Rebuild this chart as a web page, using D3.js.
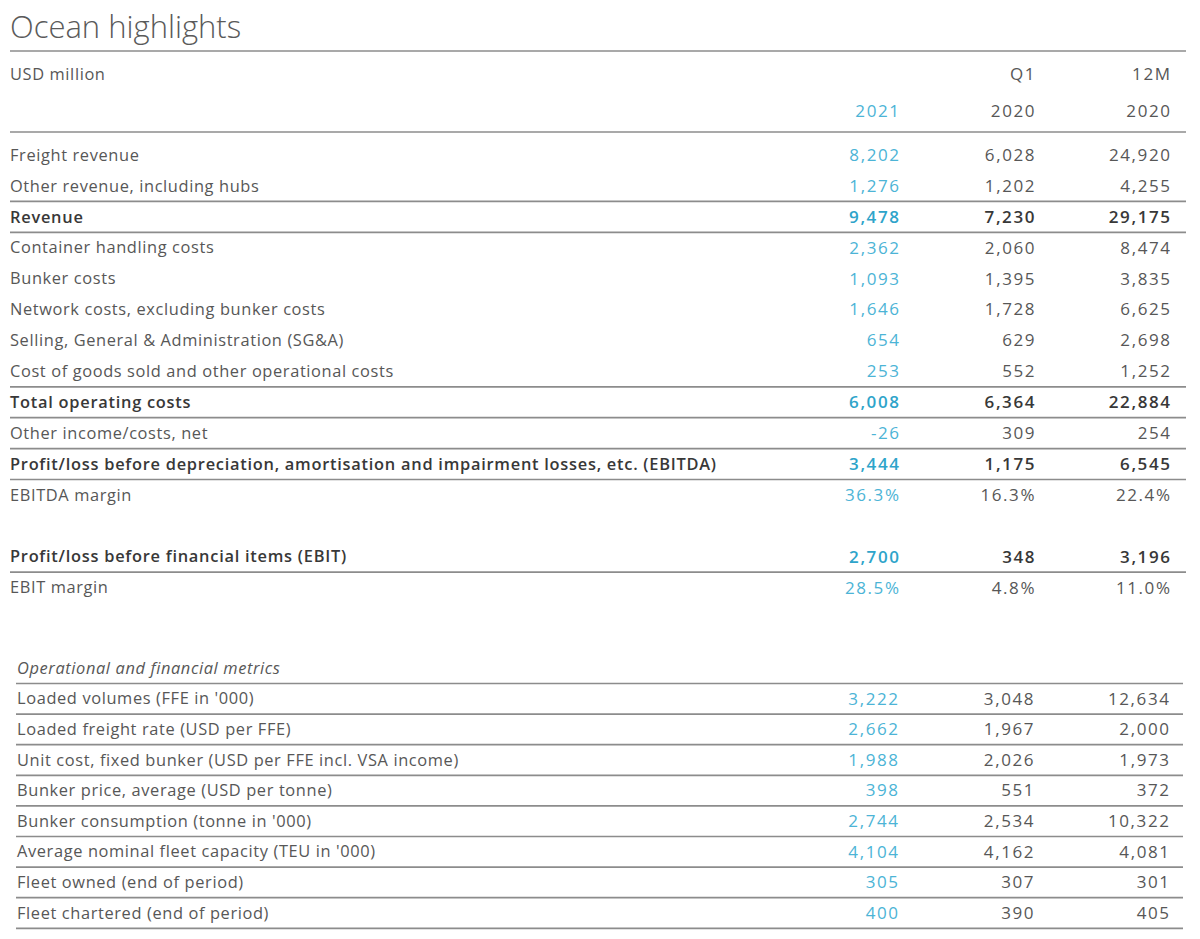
<!DOCTYPE html>
<html lang="en">
<head>
    <meta charset="UTF-8">
    <title>Ocean highlights</title>
    <script src="https://d3js.org/d3.v7.min.js"></script>
    <style>
        body { margin: 0; background: #fff; }
        text { font-family: "Open Sans", "Noto Sans", sans-serif; }
        .label { fill: #575757; font-size: 16.4px; letter-spacing: 0.62px; }
        .label.bold { letter-spacing: 0.74px; }
        .num { fill: #575757; font-size: 17px; letter-spacing: 1.6px; text-anchor: end; }
        .cur { fill: #4cb4d6; }
        .bold { font-weight: 600; fill: #383838; }
        .bold.cur { fill: #2ea4ca; }
        .rule { stroke: #8c8c8c; stroke-width: 1.7; }
    </style>
</head>
<body>
    <svg width="1200" height="939"></svg>

    <script>
        // column headers
        const columns = ["2021", "Q1 2020", "12M 2020"];
        const headTop = ["", "Q1", "12M"];
        const headYear = ["2021", "2020", "2020"];

        // income statement part
        const incomeLabels = [
            "Freight revenue",
            "Other revenue, including hubs",
            "Revenue",
            "Container handling costs",
            "Bunker costs",
            "Network costs, excluding bunker costs",
            "Selling, General & Administration (SG&A)",
            "Cost of goods sold and other operational costs",
            "Total operating costs",
            "Other income/costs, net",
            "Profit/loss before depreciation, amortisation and impairment losses, etc. (EBITDA)",
            "EBITDA margin",
            "",
            "Profit/loss before financial items (EBIT)",
            "EBIT margin"
        ];
        const income2021 = [8202, 1276, 9478, 2362, 1093, 1646, 654, 253, 6008, -26, 3444, 36.3, null, 2700, 28.5];
        const incomeQ1_2020 = [6028, 1202, 7230, 2060, 1395, 1728, 629, 552, 6364, 309, 1175, 16.3, null, 348, 4.8];
        const income12M_2020 = [24920, 4255, 29175, 8474, 3835, 6625, 2698, 1252, 22884, 254, 6545, 22.4, null, 3196, 11.0];

        const boldRows = [
            "Revenue",
            "Total operating costs",
            "Profit/loss before depreciation, amortisation and impairment losses, etc. (EBITDA)",
            "Profit/loss before financial items (EBIT)"
        ];
        const marginRows = ["EBITDA margin", "EBIT margin"];
        const ruleAfter = [
            "Other revenue, including hubs",
            "Revenue",
            "Cost of goods sold and other operational costs",
            "Total operating costs",
            "Other income/costs, net",
            "Profit/loss before depreciation, amortisation and impairment losses, etc. (EBITDA)",
            "Profit/loss before financial items (EBIT)"
        ];

        // operational metrics part
        const metricsTitle = "Operational and financial metrics";
        const metricLabels = [
            "Loaded volumes (FFE in '000)",
            "Loaded freight rate (USD per FFE)",
            "Unit cost, fixed bunker (USD per FFE incl. VSA income)",
            "Bunker price, average (USD per tonne)",
            "Bunker consumption (tonne in '000)",
            "Average nominal fleet capacity (TEU in '000)",
            "Fleet owned (end of period)",
            "Fleet chartered (end of period)"
        ];
        const metrics2021 = [3222, 2662, 1988, 398, 2744, 4104, 305, 400];
        const metricsQ1_2020 = [3048, 1967, 2026, 551, 2534, 4162, 307, 390];
        const metrics12M_2020 = [12634, 2000, 1973, 372, 10322, 4081, 301, 405];

        const loc = d3.formatLocale({ decimal: ".", thousands: ",", grouping: [3], currency: ["$", ""], minus: "-" });
        const fmtNum = loc.format(",");
        const fmtPct = v => loc.format(".1f")(v) + "%";

        const svg = d3.select("svg");
        const left = 10, right = 1186;
        const ls = 1.6; // trailing letter-spacing on right-aligned numbers

        // right edge of each value column
        const x = d3.scalePoint().domain(columns).range([899 + ls, 1170 + ls]);

        const yTop = d3.scaleLinear().domain([0, 1]).range([155, 185.9]);
        const yOps = d3.scaleLinear().domain([0, 1]).range([668, 698.6]);
        const half = 15.5;

        // title
        svg.append("text")
            .attr("x", left)
            .attr("y", 38)
            .attr("font-size", "31px")
            .attr("font-weight", 300)
            .attr("fill", "#5a5a5a")
            .text("Ocean highlights");

        function rule(y, x0, x1) {
            svg.append("line").attr("class", "rule")
                .attr("x1", x0).attr("x2", x1)
                .attr("y1", y).attr("y2", y);
        }

        rule(51, left, right);

        svg.append("text").attr("class", "label")
            .attr("x", left).attr("y", 74).attr("dy", "0.35em")
            .text("USD million");

        svg.selectAll(".headTop")
            .data(columns)
            .enter().append("text")
            .attr("class", "num")
            .attr("x", d => x(d))
            .attr("y", 74).attr("dy", "0.35em")
            .text((d, i) => headTop[i]);

        svg.selectAll(".headYear")
            .data(columns)
            .enter().append("text")
            .attr("class", (d, i) => i === 0 ? "num cur" : "num")
            .attr("x", d => x(d))
            .attr("y", 111).attr("dy", "0.35em")
            .text((d, i) => headYear[i]);

        rule(132, left, right);

        // income rows
        const incomeCols = [income2021, incomeQ1_2020, income12M_2020];
        incomeLabels.forEach((lab, i) => {
            if (!lab) return;
            const y = yTop(i);
            const isBold = boldRows.includes(lab);
            const isPct = marginRows.includes(lab);
            svg.append("text")
                .attr("class", isBold ? "label bold" : "label")
                .attr("x", left).attr("y", y).attr("dy", "0.35em")
                .text(lab);
            columns.forEach((c, j) => {
                const v = incomeCols[j][i];
                svg.append("text")
                    .attr("class", "num" + (j === 0 ? " cur" : "") + (isBold ? " bold" : ""))
                    .attr("x", x(c)).attr("y", y).attr("dy", "0.35em")
                    .text(isPct ? fmtPct(v) : fmtNum(v));
            });
            if (ruleAfter.includes(lab)) rule(y + half, left, right);
        });

        // operational metrics
        svg.append("text")
            .attr("class", "label")
            .attr("x", 17).attr("y", yOps(0)).attr("dy", "0.35em")
            .attr("font-style", "italic")
            .text(metricsTitle);
        rule(yOps(0) + half, 16, 1183);

        const metricCols = [metrics2021, metricsQ1_2020, metrics12M_2020];
        metricLabels.forEach((lab, i) => {
            const y = yOps(i + 1);
            svg.append("text")
                .attr("class", "label")
                .attr("x", 17).attr("y", y).attr("dy", "0.35em")
                .text(lab);
            columns.forEach((c, j) => {
                svg.append("text")
                    .attr("class", "num" + (j === 0 ? " cur" : ""))
                    .attr("x", x(c) - 1).attr("y", y).attr("dy", "0.35em")
                    .text(fmtNum(metricCols[j][i]));
            });
            rule(y + half, 16, 1183);
        });
    </script>
</body>
</html>
